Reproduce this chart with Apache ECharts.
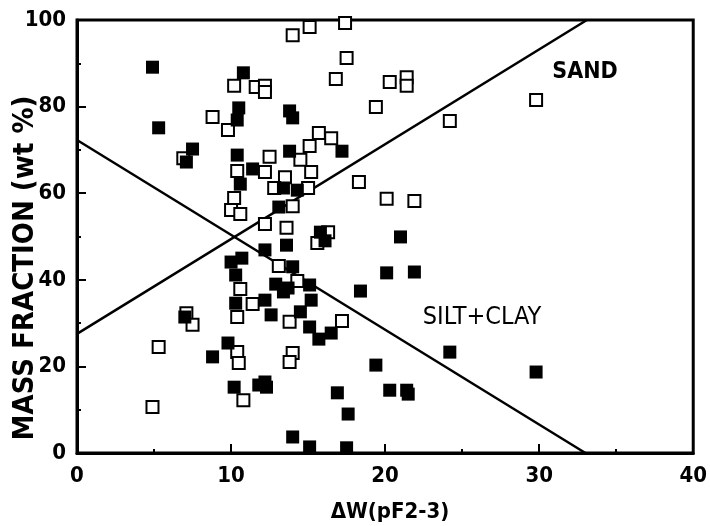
<!DOCTYPE html>
<html>
<head>
<meta charset="utf-8">
<script src="https://cdn.jsdelivr.net/npm/echarts@6/dist/echarts.min.js"></script>
<style>html,body{margin:0;padding:0;background:#fff}#c{width:710px;height:526px}</style>
</head>
<body>
<div id="c"></div>
<script>
// Axis ticks
var xTicks = [0, 10, 20, 30, 40];
var yTicks = [0, 20, 40, 60, 80, 100];

// Filled squares: [ΔW, mass fraction]
var filledX = [4.9,5.3,7.5,7.1,10.8,10.5,10.4,13.8,14.0,10.4,11.4,10.6,13.8,17.2,13.4,14.3,13.1,15.8,16.1,13.6,12.2,21.0,7.0,8.8,9.8,10.2,11.8,12.3,12.2,10.3,10.0,10.7,10.3,12.2,12.6,12.9,13.4,13.7,14.0,15.1,15.2,14.5,15.1,15.7,16.5,14.0,15.1,17.5,16.9,17.6,18.4,20.1,21.9,24.2,19.4,29.8,20.3,21.4,21.5];
var filledY = [89.1,75.1,70.2,67.2,87.8,79.7,76.9,79.0,77.4,68.8,65.6,62.1,69.7,69.7,61.2,60.7,56.8,51.0,49.0,48.0,46.9,49.9,31.4,22.2,25.4,15.2,15.7,15.2,16.4,34.6,44.1,45.0,41.1,35.3,31.9,39.0,37.2,38.1,43.0,38.8,35.3,32.6,29.1,26.3,27.7,3.7,1.4,1.2,13.9,9.0,37.4,41.6,41.8,23.3,20.3,18.7,14.5,14.5,13.6];

// Open squares
var openX = [6.9,8.8,9.8,10.2,11.6,12.2,12.2,14.0,15.1,17.4,17.5,16.8,10.4,12.2,12.5,15.1,15.7,16.5,14.5,15.2,13.5,12.8,15.0,10.2,10.0,10.6,14.0,12.2,13.6,16.3,15.6,18.3,21.4,21.4,20.3,19.4,24.2,29.8,20.1,21.9,5.3,4.9,7.1,7.5,10.4,10.5,10.8,11.4,10.4,10.6,13.1,14.3,13.8,17.2,14.0,13.8];
var openY = [68.1,77.6,74.6,84.8,84.5,84.8,83.4,96.5,98.4,99.3,91.2,86.4,65.1,64.9,68.4,70.9,73.9,72.7,67.7,64.9,63.7,61.2,61.2,58.9,56.1,55.2,57.0,52.9,52.0,51.0,48.5,62.6,86.8,84.8,85.7,79.9,76.7,81.5,58.7,58.2,24.5,10.6,32.3,29.6,23.3,20.8,12.2,34.4,31.4,37.9,43.2,39.7,30.3,30.5,23.1,21.0];

// Boundary lines
var sandLineX = [0, 33.1];
var sandLineY = [27.5, 100];
var siltLineX = [0, 33.0];
var siltLineY = [72.3, 0];

function zip(a, b) { return a.map(function (v, i) { return [v, b[i]]; }); }

var FAM = "'DejaVu Sans', sans-serif";
var chart = echarts.init(document.getElementById('c'));
chart.setOption({
  animation: false,
  backgroundColor: '#fff',
  grid: { left: 77, right: 11, top: 20, bottom: 73, show: true, borderColor: '#000', borderWidth: 3, backgroundColor: 'transparent' },
  xAxis: {
    type: 'value', min: xTicks[0], max: xTicks[xTicks.length - 1], interval: 10,
    axisLine: { show: true, onZero: false, lineStyle: { color: '#000', width: 3 } },
    axisTick: { show: true, inside: true, length: 9, lineStyle: { color: '#000', width: 2 } },
    minorTick: { show: true, splitNumber: 2, length: 4, lineStyle: { color: '#000', width: 2 } },
    splitLine: { show: false },
    axisLabel: { color: '#000', fontSize: 22, fontStyle: 'condensed', fontWeight: 'bold', fontFamily: FAM, margin: 12 }
  },
  yAxis: {
    type: 'value', min: yTicks[0], max: yTicks[yTicks.length - 1], interval: 20,
    axisLine: { show: true, onZero: false, lineStyle: { color: '#000', width: 3 } },
    axisTick: { show: true, inside: true, length: 9, lineStyle: { color: '#000', width: 2 } },
    minorTick: { show: true, splitNumber: 2, length: 4, lineStyle: { color: '#000', width: 2 } },
    splitLine: { show: false },
    axisLabel: { color: '#000', fontSize: 22, fontStyle: 'condensed', fontWeight: 'bold', fontFamily: FAM, margin: 11 }
  },
  graphic: [
    { type: 'text', x: 25, y: 268, rotation: Math.PI / 2,
      style: { text: 'MASS FRACTION (wt %)', fill: '#000', font: 'condensed bold 29px ' + FAM, textAlign: 'center', textVerticalAlign: 'middle' } },
    { type: 'text', x: 390, y: 512,
      style: { text: 'ΔW(pF2-3)', fill: '#000', font: 'condensed bold 22px ' + FAM, textAlign: 'center', textVerticalAlign: 'middle' } },
    { type: 'text', x: 585, y: 72,
      style: { text: 'SAND', fill: '#000', font: 'condensed bold 23px ' + FAM, textAlign: 'center', textVerticalAlign: 'middle' } },
    { type: 'text', x: 482, y: 317,
      style: { text: 'SILT+CLAY', fill: '#000', font: 'condensed 25px ' + FAM, textAlign: 'center', textVerticalAlign: 'middle' } }
  ],
  series: [
    { type: 'line', data: zip(sandLineX, sandLineY), symbol: 'none', lineStyle: { color: '#000', width: 2.5 }, z: 2 },
    { type: 'line', data: zip(siltLineX, siltLineY), symbol: 'none', lineStyle: { color: '#000', width: 2.5 }, z: 2 },
    { type: 'scatter', data: zip(openX, openY), symbol: 'rect', symbolSize: 12,
      itemStyle: { color: '#fff', borderColor: '#000', borderWidth: 2, opacity: 1 }, z: 3 },
    { type: 'scatter', data: zip(filledX, filledY), symbol: 'rect', symbolSize: 13,
      itemStyle: { color: '#000', opacity: 1 }, z: 4 }
  ]
});
</script>
</body>
</html>
